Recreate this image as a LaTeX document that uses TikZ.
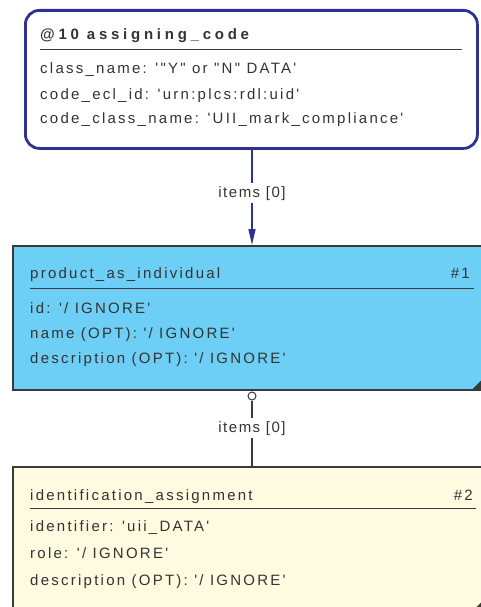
\documentclass[tikz,border=0pt]{standalone}
\usepackage{fontspec}
\setmainfont{Liberation Sans}[Ligatures=TeXOff]
\newfontfamily\bodyf{Liberation Sans}[Ligatures=TeXOff,LetterSpace=15]
\newfontfamily\lblf{Liberation Sans}[Ligatures=TeXOff,LetterSpace=10]
\newfontfamily\titlef{Liberation Sans}[Ligatures=TeXOff,LetterSpace=25]
\usetikzlibrary{arrows.meta}
\definecolor{frameblue}{HTML}{2E3192}
\definecolor{entblue}{HTML}{6DCFF6}
\definecolor{entyellow}{HTML}{FFFBE0}
\definecolor{ink}{HTML}{333333}
\definecolor{edgegray}{HTML}{3A3A3A}
\begin{document}
\begin{tikzpicture}[x=1pt,y=-1pt,
  txt/.style={inner sep=0pt, anchor=base west, text=ink, font=\bodyf\fontsize{15}{17}\selectfont},
  rtxt/.style={txt, anchor=base east},
  ttl/.style={inner sep=0pt, anchor=base west, text=ink, font=\titlef\bfseries\fontsize{15}{17}\selectfont},
  lbl/.style={inner sep=3pt, anchor=base, text=ink, font=\lblf\fontsize{15}{17}\selectfont},
  rulel/.style={draw=edgegray, line width=1pt},
  topbox/.style={draw=frameblue, line width=2.8pt, rounded corners=14pt, fill=white, minimum width=452pt, minimum height=138pt, anchor=north west, inner sep=0pt},
  entbox/.style={draw=edgegray, line width=1.5pt, minimum width=471pt, minimum height=144pt, anchor=north west, inner sep=0pt},
  blueconn/.style={draw=frameblue, line width=1.6pt},
  grayconn/.style={draw=edgegray, line width=1.3pt},
  corner/.style={fill=edgegray}
]
\useasboundingbox (0,0) rectangle (481,607);
\fill[white] (0,0) rectangle (481,607);

% top box
\node[topbox] (top) at (24,9) {};
\node[ttl] (t0) at (40,40) {@10 assigning\_code};
\draw[rulel] (40,49.5) -- (462,49.5);
\node[txt] (t1) at (40,74) {class\_name: '"Y" or "N" DATA'};
\node[txt] (t2) at (40,99.5) {code\_ecl\_id: 'urn:plcs:rdl:uid'};
\node[txt] (t3) at (40,124) {code\_class\_name: 'UII\_mark\_compliance'};

% blue entity
\node[entbox, fill=entblue] (blue) at (12,245) {};
\node[txt] (b0) at (30,278) {product\_as\_individual};
\node[rtxt] (b0n) at (470,278) {\#1};
\draw[rulel] (30,288) -- (474,288);
\node[txt] (b1) at (30,313) {id: '/ IGNORE'};
\node[txt] (b2) at (30,338) {name (OPT): '/ IGNORE'};
\node[txt] (b3) at (30,363) {description (OPT): '/ IGNORE'};
\fill[corner] (472,389.5) -- (481.5,380) -- (481.5,389.5) -- cycle;

% yellow entity
\node[entbox, fill=entyellow] (yellow) at (12,466) {};
\node[txt] (y0) at (30,500) {identification\_assignment};
\node[rtxt] (y0n) at (473,500) {\#2};
\draw[rulel] (30,508.5) -- (476,508.5);
\node[txt] (y1) at (30,531.5) {identifier: 'uii\_DATA'};
\node[txt] (y2) at (30,558) {role: '/ IGNORE'};
\node[txt] (y3) at (30,585) {description (OPT): '/ IGNORE'};
\fill[corner] (476,607.5) -- (481.5,602) -- (481.5,607.5) -- cycle;

% connector 1
\node[lbl] (l1) at (252,197) {items [0]};
\draw[blueconn] (top.south -| l1) -- (l1.north);
\draw[blueconn, -{Triangle[length=16pt,width=7pt]}] (l1.south) -- (blue.north -| l1);

% connector 2
\node[circle, draw=edgegray, line width=1pt, fill=white, minimum size=8pt, inner sep=0pt] (o2) at (252,396) {};
\node[lbl] (l2) at (252,432) {items [0]};
\draw[grayconn] (o2.south) -- (l2.north);
\draw[grayconn] (l2.south) -- (yellow.north -| l2);
\end{tikzpicture}
\end{document}
